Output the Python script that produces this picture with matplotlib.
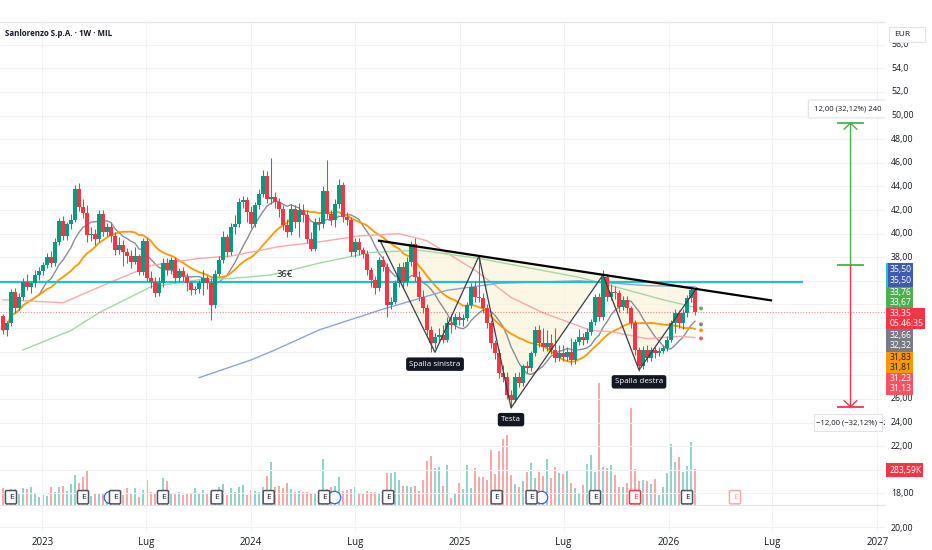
import numpy as np
import pandas as pd
import matplotlib
matplotlib.use("Agg")
import matplotlib.pyplot as plt
import matplotlib.dates as mdates
from matplotlib.patches import Rectangle, Polygon

plt.rcParams['font.family'] = ['Open Sans', 'DejaVu Sans']

# ---- data (weekly bars) ----
first_week = "2022-10-24"
closes = [
    31.84, 32.40, 35.07, 33.67, 34.65, 35.92, 35.50, 35.78, 36.48, 36.85,
    37.32, 38.03, 37.52, 39.29, 41.07, 39.77, 40.78, 41.18, 43.79, 42.25,
    41.74, 39.86, 40.00, 39.58, 41.68, 40.14, 40.56, 39.77, 38.59, 39.01,
    38.45, 38.08, 37.61, 38.08, 36.76, 39.38, 36.26, 35.92, 34.93, 35.78,
    37.52, 36.90, 37.75, 36.20, 36.85, 36.34, 35.78, 35.22, 35.27, 35.78,
    36.20, 35.78, 33.95, 36.62, 37.75, 39.72, 38.45, 40.56, 40.84, 42.67,
    42.85, 41.83, 40.84, 42.39, 43.37, 44.92, 42.95, 43.09, 42.67, 42.11,
    40.70, 40.14, 42.11, 40.98, 42.02, 41.54, 39.58, 38.73, 40.98, 40.78,
    43.65, 41.68, 41.12, 42.53, 44.08, 41.40, 41.12, 38.45, 39.29, 38.59,
    38.31, 36.90, 36.06, 35.36, 37.75, 37.18, 33.95, 34.23, 35.78, 37.18,
    35.92, 37.61, 39.15, 36.34, 34.65, 33.67, 31.84, 30.71, 31.28, 31.45,
    31.00, 32.40, 32.26, 32.96, 32.68, 32.82, 33.95, 35.50, 34.65, 34.51,
    33.67, 32.40, 30.71, 29.87, 28.18, 27.90, 26.35, 25.93, 27.90, 27.34,
    28.75, 28.60, 29.87, 31.84, 30.71, 30.43, 30.71, 30.15, 29.45, 29.87,
    29.59, 30.01, 29.31, 30.86, 31.28, 31.00, 31.70, 32.54, 34.65, 32.96,
    36.34, 34.65, 35.07, 34.93, 33.81, 34.37, 33.67, 32.40, 30.15, 28.75,
    30.15, 29.45, 30.15, 29.87, 30.10, 30.35, 31.00, 32.40, 33.25, 32.40,
    33.25, 34.51, 35.21, 33.35]
highs = [
    33.2, 32.6, 35.3, 35.4, 35.0, 36.2, 36.6, 36.0, 36.9, 37.2,
    37.6, 38.4, 38.5, 39.6, 41.3, 41.5, 41.0, 41.7, 44.1, 44.3,
    42.9, 42.4, 40.6, 40.4, 42.0, 42.0, 40.9, 40.9, 40.1, 39.7,
    39.5, 38.8, 38.6, 38.9, 38.3, 39.6, 39.6, 36.8, 36.3, 36.3,
    37.9, 37.9, 38.0, 38.0, 37.1, 37.2, 36.7, 36.0, 35.6, 36.1,
    36.9, 36.5, 36.2, 36.9, 38.1, 40.2, 40.0, 40.9, 41.6, 43.0,
    43.2, 43.1, 42.3, 42.7, 43.8, 45.4, 45.3, 46.4, 43.5, 43.0,
    42.4, 41.2, 42.5, 42.4, 42.6, 42.5, 42.0, 40.1, 41.3, 41.4,
    44.0, 46.2, 42.0, 42.9, 44.6, 44.4, 41.8, 41.4, 39.6, 39.6,
    38.9, 38.6, 37.2, 36.4, 38.0, 38.1, 37.5, 34.6, 36.1, 37.5,
    37.6, 38.0, 39.4, 39.6, 36.8, 35.2, 34.0, 32.2, 31.6, 32.0,
    32.3, 32.9, 33.2, 33.3, 33.4, 33.2, 34.2, 35.8, 36.0, 38.0,
    35.0, 34.0, 32.7, 31.0, 30.2, 28.9, 28.3, 26.8, 28.2, 28.3,
    29.0, 29.2, 30.1, 32.2, 32.3, 32.0, 31.8, 31.5, 32.0, 30.6,
    30.6, 30.4, 31.2, 31.1, 31.9, 31.6, 32.0, 32.8, 34.9, 35.0,
    36.9, 36.6, 35.7, 35.6, 35.2, 34.7, 34.7, 33.9, 32.7, 30.4,
    30.5, 30.6, 30.4, 30.4, 30.4, 30.6, 31.3, 32.7, 33.6, 33.5,
    33.6, 34.8, 35.5, 35.4]
lows = [
    31.5, 31.3, 32.2, 33.3, 33.5, 34.4, 35.2, 35.0, 35.5, 36.1,
    36.5, 37.1, 37.2, 37.3, 39.0, 39.5, 39.5, 40.4, 41.0, 41.9,
    41.3, 39.3, 39.4, 39.0, 39.3, 39.8, 39.8, 39.3, 38.2, 38.3,
    37.3, 37.5, 37.1, 37.4, 36.5, 36.5, 36.0, 35.4, 34.6, 34.7,
    35.5, 36.5, 36.6, 35.9, 35.9, 36.0, 35.1, 34.8, 34.9, 35.0,
    34.8, 35.3, 32.7, 33.7, 36.4, 37.5, 38.0, 38.2, 40.0, 40.6,
    42.2, 41.0, 40.5, 40.6, 42.1, 43.1, 42.6, 42.5, 42.2, 41.4,
    40.3, 39.7, 39.9, 40.5, 39.7, 41.0, 39.2, 38.5, 38.5, 40.3,
    40.5, 41.3, 40.7, 40.6, 42.2, 41.0, 40.7, 38.1, 38.0, 38.2,
    37.9, 36.5, 35.5, 34.9, 35.1, 36.8, 32.9, 33.6, 34.0, 35.5,
    35.5, 35.6, 37.3, 36.0, 34.3, 33.3, 31.4, 30.0, 30.3, 30.9,
    30.7, 30.8, 31.6, 31.9, 32.3, 32.2, 32.6, 33.7, 34.2, 34.2,
    33.3, 32.0, 30.3, 29.4, 27.8, 27.4, 26.0, 25.25, 25.7, 27.0,
    27.1, 28.2, 28.4, 29.6, 30.4, 30.1, 30.1, 29.8, 29.1, 29.2,
    29.2, 29.2, 28.9, 29.0, 30.6, 30.6, 30.7, 31.4, 32.3, 32.6,
    32.7, 34.3, 34.4, 34.5, 33.4, 33.5, 33.3, 32.0, 29.7, 28.4,
    28.5, 29.1, 29.2, 29.5, 29.6, 29.9, 30.1, 30.8, 31.6, 32.0,
    31.9, 32.9, 34.2, 33.1]
volumes_k = [
    132.5, 119, 124.5, 124.5, 93, 132.5, 124.5, 146, 93, 66,
    79.5, 71.5, 140, 106, 146, 151, 114, 167, 238.5, 172,
    225, 270, 71.5, 87.5, 93, 93, 66, 106, 93, 79.5,
    79.5, 132.5, 98, 132.5, 66, 119, 199, 106, 93, 98,
    212, 191, 85, 93, 103, 79.5, 87.5, 87.5, 138, 85,
    119, 85, 85, 106, 140, 167, 79.5, 132.5, 106, 140,
    162, 79.5, 119, 114, 101, 140, 230.5, 344.5, 146, 151,
    132.5, 177.5, 124.5, 106, 114, 106, 106, 93, 98, 61,
    363, 124.5, 140, 151, 220, 114, 119, 124.5, 146, 87.5,
    85, 111, 103, 106, 93, 79.5, 252, 257, 265, 199,
    151, 151, 140, 151, 114, 199, 350, 392, 297, 299,
    151, 318, 53, 98, 177.5, 124.5, 318, 132.5, 291.5, 220,
    220, 199, 437, 246.5, 429, 522, 556.5, 238.5, 167, 140,
    191, 265, 336.5, 212, 265, 230.5, 363, 212, 299.5, 257,
    246.5, 270, 172, 132.5, 98, 159, 326, 397.5, 265, 970,
    305, 297, 318, 238.5, 146, 140, 177.5, 768.5, 283.5, 191,
    199, 193.5, 167, 206.5, 79.5, 140, 252, 485, 344.5, 384,
    265, 310, 503.5, 283.59]

# long moving averages (history starts before the visible data) read as samples
sma50_weeks = [0, 15, 27, 37, 49, 57, 69, 79, 89, 99, 106, 118, 127, 135, 147, 152, 161, 169, 173]
sma50_vals = [34.4, 34.15, 35.9, 37.3, 37.9, 38.1, 38.9, 39.3, 39.8, 40.0, 39.4, 36.9, 34.6, 33.3, 31.8, 31.7, 31.1, 31.3, 31.2]
sma100_weeks = [5, 17, 24, 37, 49, 57, 67, 79, 92, 104, 119, 144, 152, 165, 173]
sma100_vals = [30.15, 31.8, 33.3, 35.5, 36.1, 36.2, 36.5, 37.5, 38.4, 38.6, 37.9, 36.3, 35.6, 34.4, 33.76]
sma200_weeks = [49, 62, 68, 79, 94, 99, 104, 111, 124, 144, 161, 173]
sma200_vals = [27.8, 29.3, 30.15, 31.84, 33.5, 34.0, 34.5, 35.2, 35.8, 36.0, 35.6, 35.5]

# inverse head & shoulders drawing
hs_dates = ["2024-08-14", "2024-11-18", "2025-02-03", "2025-03-31", "2025-09-08", "2025-11-10", "2026-02-19"]
hs_prices = [39.4, 29.95, 38.1, 25.25, 36.5, 28.45, 35.4]
neck_dates = ["2024-08-12", "2026-06-29"]
neck_prices = [39.4, 34.35]
level_36 = 35.9
last_price = 33.35

earnings = ["2022-11-07", "2023-03-13", "2023-05-08", "2023-07-31", "2023-11-02", "2024-02-01",
            "2024-05-08", "2024-08-28", "2025-03-06", "2025-05-06", "2025-08-25", "2025-11-03",
            "2026-02-02", "2026-04-27"]
dividends = ["2023-04-24", "2024-05-20", "2025-05-17"]

measure_date = "2026-11-15"
measure_base, measure_up, measure_dn = 37.35, 49.35, 25.35

year_ticks = ["2023-01-01", "2023-07-01", "2024-01-01", "2024-07-01", "2025-01-01",
              "2025-07-01", "2026-01-01", "2026-07-01", "2027-01-01"]
year_labels = ["2023", "Lug", "2024", "Lug", "2025", "Lug", "2026", "Lug", "2027"]

price_ticks = [18, 22, 24, 26, 38, 40, 42, 44, 46, 48, 50, 52, 54, 56]
price_labels = ["18,00", "22,00", "24,00", "26,00", "38,00", "40,00", "42,00", "44,00",
                "46,00", "48,00", "50,00", "52,0", "54,0", "56,0"]

# ---- styles ----
UP, DN = "#089981", "#f23645"
VUP, VDN = "#92d2cc", "#f7a9a7"
GRID = "#f0f2f6"
TXT = "#131722"

W, H = 932, 550
fig = plt.figure(figsize=(W / 100, H / 100), dpi=100)


def frect(x0, y0, x1, y1):
    return [x0 / W, 1 - y1 / H, (x1 - x0) / W, (y1 - y0) / H]


ax = fig.add_axes(frect(0, 22, 885, 505))
axv = ax.twinx()
ax2 = fig.add_axes(frect(0, 505, 885, 533), sharex=ax)
axr = fig.add_axes(frect(885, 22, 932, 505))

ax.set_zorder(3)
axv.set_zorder(2)
axr.set_zorder(5)
ax.patch.set_visible(False)

weeks = pd.date_range(first_week, periods=len(closes), freq="7D")
x = mdates.date2num(weeks)
c = np.array(closes)
o = np.array([33.00] + closes[:-1])
up = c >= o

d0 = x[0]
ax.set_xlim(d0 - 5.25, d0 + 7 * 220.5)
ylo, yhi = 17.02, 57.92
ax.set_ylim(ylo, yhi)

for p in range(18, 58, 2):
    ax.axhline(p, color=GRID, lw=0.8, zorder=0)

# volume
axv.bar(x, volumes_k, width=5.0, color=np.where(up, VUP, VDN), zorder=1)
axv.set_ylim(0, 483 * 7.95)
axv.set_yticks([])
axv.tick_params(right=False, labelright=False)
for s in axv.spines.values():
    s.set_visible(False)

# moving averages
s = pd.Series(closes)
ax.plot(x, s.rolling(10, min_periods=1).mean(), color="#8a8d96", lw=1.0, zorder=2)
ax.plot(x, s.rolling(20, min_periods=1).mean(), color="#ff9800", lw=1.3, zorder=2)
ax.plot(d0 + 7 * np.array(sma50_weeks), sma50_vals, color="#f7a9a7", lw=1.0, zorder=2)
ax.plot(d0 + 7 * np.array(sma100_weeks), sma100_vals, color="#a5d6a7", lw=1.0, zorder=2)
ax.plot(d0 + 7 * np.array(sma200_weeks), sma200_vals, color="#90a4d4", lw=1.0, zorder=2)

# pattern fill + lines
hs_x = mdates.datestr2num(hs_dates)
ax.add_patch(Polygon(np.column_stack([hs_x, hs_prices]), closed=True,
                     fc="#fbf1cf", alpha=0.55, ec="none", zorder=1))
ax.plot(hs_x, hs_prices, color="#3a3d45", lw=0.9, zorder=5)
ax.plot(mdates.datestr2num(neck_dates), neck_prices, color="black", lw=1.6, zorder=5)

# horizontal levels
ax.plot([ax.get_xlim()[0], d0 + 7 * 199.75], [level_36, level_36], color="#1fbfd6", lw=1.6, zorder=2)
ax.text(d0 + 7 * 70.5, 36.58, "36€", fontsize=6.8, color=TXT, ha="center", va="center", zorder=6)
ax.axhline(last_price, color=DN, lw=0.8, ls=(0, (1, 1.5)), alpha=0.6, zorder=2)

# candles
col = np.where(up, UP, DN)
ax.vlines(x, lows, highs, colors=col, lw=0.75, zorder=3)
ax.bar(x, np.maximum(np.abs(c - o), 0.06), bottom=np.minimum(o, c), width=5.6,
       color=col, zorder=4)

# MA projected dots
ax.scatter([d0 + 7 * 174.5] * 4, [33.67, 32.32, 31.81, 31.13], s=3,
           c=["#4caf50", "#787b86", "#ff9800", "#f7525f"], zorder=6)

# pattern labels
for d, p, t in [(hs_dates[1], hs_prices[1], "Spalla sinistra"),
                (hs_dates[3], hs_prices[3], "Testa"),
                (hs_dates[5], hs_prices[5], "Spalla destra")]:
    ax.annotate(t, xy=(mdates.datestr2num(d), p), xytext=(0, -6), textcoords="offset points",
                ha="center", va="top", fontsize=5.8, color="white", zorder=7,
                bbox=dict(boxstyle="round,pad=0.4,rounding_size=0.3", fc=TXT, ec="none"))

# measure tool
mx = mdates.datestr2num(measure_date)
hw = 12.5 * 7 / 4
ax.plot([mx, mx], [measure_base, measure_up], color="#4caf50", lw=1.0, zorder=5)
ax.plot([mx - hw, mx + hw], [measure_up, measure_up], color="#4caf50", lw=1.3, zorder=5)
ax.plot([mx - hw, mx + hw], [measure_base, measure_base], color="#4caf50", lw=1.3, zorder=5)
ax.plot([mx - 11, mx, mx + 11], [measure_up - 0.5, measure_up, measure_up - 0.5], color="#4caf50", lw=1.0, zorder=5)
ax.plot([mx, mx], [measure_base, measure_dn], color=DN, lw=1.0, zorder=5)
ax.plot([mx - hw, mx + hw], [measure_dn, measure_dn], color=DN, lw=1.3, zorder=5)
ax.plot([mx - 11, mx, mx + 11], [measure_dn + 0.5, measure_dn, measure_dn + 0.5], color=DN, lw=1.0, zorder=5)
ax.text(mx - 5, 50.56, "12,00 (32,12%) 240", fontsize=5.6, color=TXT, ha="center", va="center", zorder=7,
        bbox=dict(boxstyle="round,pad=0.7,rounding_size=0.2", fc="white", ec="#e0e3eb", lw=0.8))
ax.add_patch(Rectangle((mx - 64, 23.28), 120, 1.44, fc="white", ec="#e0e3eb", lw=0.8, zorder=7))
ax.text(mx - 60, 24.0, "\u221212,00 (\u221232,12%) \u2212240", fontsize=5.6, color=TXT,
        ha="left", va="center", zorder=7, clip_on=True)

# earnings / dividend markers
for d in dividends:
    ax.scatter(mdates.datestr2num(d) + 5, 17.68, s=80, facecolors="white", edgecolors="#2962ff",
               linewidths=0.9, zorder=6)
for i, d in enumerate(earnings):
    ec = "#50535e"
    fc_txt = "#131722"
    if i == len(earnings) - 3:
        ec = fc_txt = DN
    if i == len(earnings) - 1:
        ec = fc_txt = "#f7a9a7"
    ax.text(mdates.datestr2num(d), 17.68, "E", fontsize=6, color=fc_txt, ha="center", va="center",
            zorder=7, bbox=dict(boxstyle="round,pad=0.38,rounding_size=0.15", fc="white", ec=ec, lw=1.1))

ax.text(5 / 885, 1 - 12 / 483, "Sanlorenzo S.p.A. \u00b7 1W \u00b7 MIL", transform=ax.transAxes,
        fontsize=5.7, fontweight="bold", color=TXT, va="center", ha="left", zorder=8)

# axes styling
tick_x = mdates.datestr2num(year_ticks)
ax.set_xticks(tick_x)
ax.grid(axis="x", color=GRID, lw=0.8, zorder=0)
ax.tick_params(axis="x", length=0, labelbottom=False)
ax.set_yticks([])
for k, sp in ax.spines.items():
    sp.set_visible(k == "top")
ax.spines["top"].set_color("#e0e3eb")

ax2.set_ylim(0, 28)
ax2.set_xticklabels(year_labels)
ax2.grid(axis="x", color=GRID, lw=0.8)
ax2.axhline(6, color=GRID, lw=0.8)
ax2.tick_params(axis="x", length=0, pad=3, labelsize=7, labelcolor=TXT)
ax2.yaxis.tick_right()
ax2.set_yticks([6])
ax2.set_yticklabels(["20,00"])
ax2.tick_params(axis="y", length=0, pad=4, labelsize=6.3, labelcolor=TXT)
for k, sp in ax2.spines.items():
    sp.set_visible(k == "top")
ax2.spines["top"].set_color("#e0e3eb")

# right price scale: own white panel, tick labels, value boxes
axr.set_xlim(0, 47)
axr.set_ylim(ylo, yhi)
axr.axis("off")
axr.add_patch(Rectangle((0, ylo), 47, yhi - ylo, fc="white", ec="none", zorder=0))
for p, lab in zip(price_ticks, price_labels):
    axr.text(6, p, lab, fontsize=6.3, color=TXT, va="center", ha="left", zorder=1)
boxes = [
    (37.52, 35.49, 28, "#3f5ba9", ["35,50", "35,50"], "white"),
    (35.49, 33.71, 28, "#4caf50", ["33,76", "33,67"], "white"),
    (33.71, 31.94, 40, "#f23645", ["33,35", "05:46:35"], "white"),
    (31.94, 29.99, 28, "#787b86", ["32,66", "32,32"], "white"),
    (29.99, 28.21, 28, "#ff9800", ["31,83", "31,81"], TXT),
    (28.21, 26.35, 28, "#f7525f", ["31,23", "31,13"], "white"),
]
for top, bot, wdt, fc, labs, tc in boxes:
    axr.add_patch(Rectangle((1, bot), wdt - 1, top - bot, fc=fc, ec="none", zorder=2))
    hgt = top - bot
    axr.text(5, top - hgt * 0.27, labs[0], fontsize=6.2, color=tc, va="center", ha="left", zorder=3)
    axr.text(5, bot + hgt * 0.27, labs[1], fontsize=6.2, color=tc, va="center", ha="left", zorder=3)
axr.add_patch(Rectangle((1, 35.49), 1.5, 37.52 - 35.49, fc="#1fbfd6", ec="none", zorder=3))
axr.add_patch(Rectangle((1, 19.39), 37, 1.19, fc="#f23645", ec="none", zorder=2))
axr.text(5, 19.98, "283,59K", fontsize=6.2, color="white", va="center", ha="left", zorder=3)
axr.add_patch(Rectangle((4, 56.23), 36, 1.27, fc="white", ec="#e0e3eb", lw=0.8, zorder=2))
axr.text(9, 56.86, "EUR", fontsize=6.0, color=TXT, va="center", ha="left", zorder=3)

fig.savefig("out.png", dpi=100, facecolor="white")
